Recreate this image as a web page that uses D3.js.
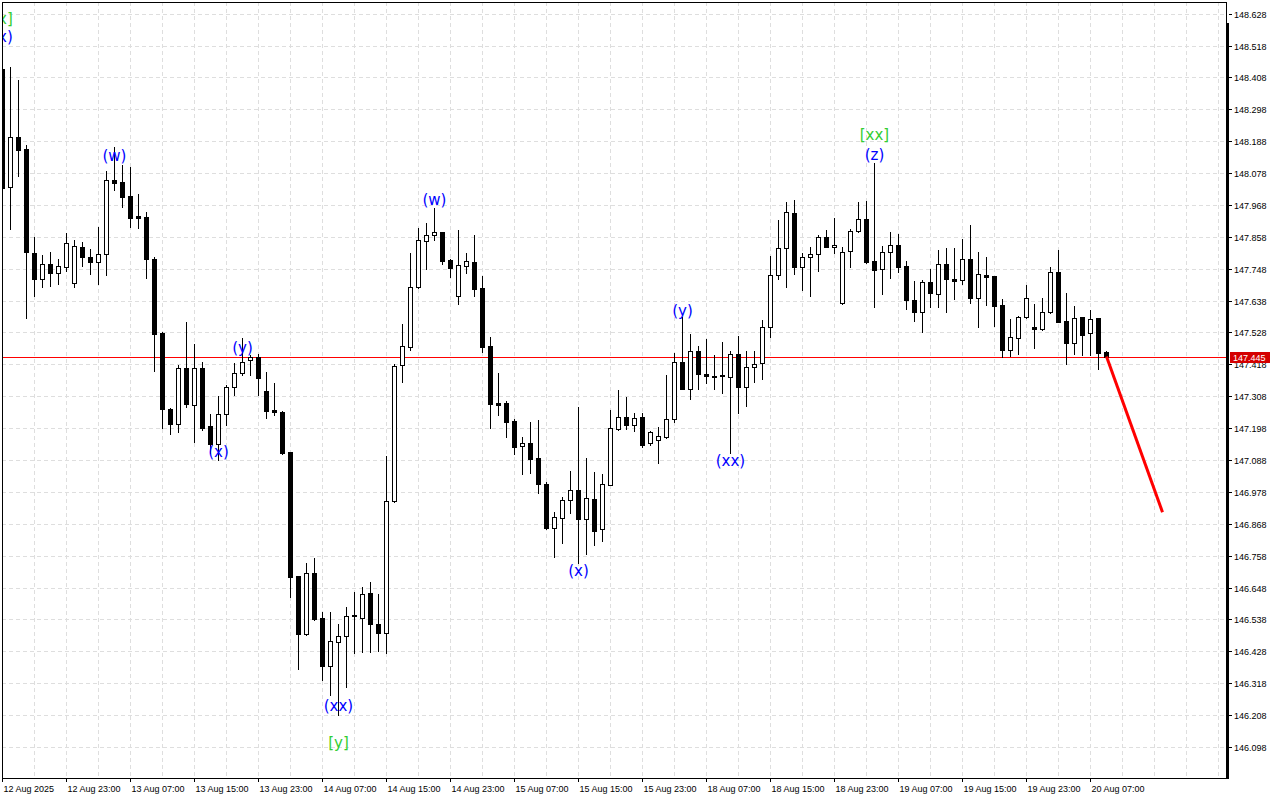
<!DOCTYPE html>
<html><head><meta charset="utf-8">
<script src="https://cdn.jsdelivr.net/npm/d3@7"></script>
<style>html,body{margin:0;padding:0;background:#fff;} svg{display:block;}</style>
</head><body>
<svg id="c" width="1280" height="800"></svg>
<script>
// ---- DATA (H1, 12 Aug 2025 15:00 .. 20 Aug 2025 09:00) ----
const opens = [148.437,148.030,148.203,148.161,147.802,147.713,147.764,147.733,147.754,147.699,
147.823,147.788,147.771,147.799,148.054,148.047,147.999,147.930,147.927,147.782,
147.526,147.264,147.212,147.406,147.278,147.406,147.205,147.143,147.247,147.340,
147.388,147.433,147.443,147.326,147.261,147.254,147.116,146.688,146.488,146.698,
146.543,146.377,146.460,146.481,146.550,146.543,146.629,146.522,146.491,146.947,
147.416,147.478,147.685,147.844,147.864,147.875,147.778,147.654,147.757,147.771,
147.682,147.481,147.285,147.285,147.223,147.136,147.147,147.095,147.005,146.853,
146.888,146.950,146.984,146.884,146.953,146.850,147.002,147.195,147.236,147.209,
147.236,147.147,147.157,147.167,147.229,147.426,147.333,147.464,147.385,147.374,
147.381,147.374,147.454,147.340,147.409,147.423,147.547,147.726,147.820,147.940,
147.754,147.788,147.799,147.857,147.823,147.630,147.809,147.878,147.920,147.775,
147.747,147.806,147.830,147.757,147.640,147.599,147.702,147.661,147.764,147.713,
147.709,147.782,147.647,147.726,147.723,147.623,147.468,147.509,147.581,147.547,
147.540,147.599,147.737,147.568,147.492,147.581,147.526,147.578,147.461];
const highs = [148.448,148.444,148.399,148.175,147.857,147.795,147.806,147.782,147.871,147.847,
147.840,147.816,147.892,148.085,148.168,148.106,148.099,148.006,147.944,147.788,
147.530,147.267,147.416,147.564,147.488,147.426,147.247,147.309,147.347,147.423,
147.509,147.450,147.454,147.392,147.354,147.257,147.116,146.688,146.733,146.750,
146.563,146.563,146.522,146.581,146.633,146.650,146.667,146.626,147.102,147.419,
147.557,147.802,147.889,147.906,147.958,147.875,147.782,147.882,147.802,147.864,
147.723,147.512,147.388,147.292,147.229,147.167,147.219,147.226,147.012,146.909,
146.960,147.050,147.271,147.095,147.047,147.040,147.261,147.330,147.305,147.250,
147.250,147.188,147.202,147.381,147.457,147.581,147.523,147.481,147.506,147.450,
147.495,147.464,147.516,147.464,147.464,147.571,147.792,147.916,147.978,147.985,
147.802,147.823,147.864,147.882,147.923,147.823,147.885,147.978,147.982,148.113,
147.826,147.875,147.868,147.775,147.706,147.709,147.747,147.813,147.820,147.820,
147.851,147.899,147.806,147.788,147.723,147.644,147.575,147.585,147.692,147.626,
147.647,147.754,147.813,147.664,147.619,147.581,147.606,147.578,147.464];
const lows = [148.020,147.885,148.068,147.578,147.654,147.685,147.688,147.695,147.740,147.685,
147.757,147.730,147.695,147.726,148.020,147.961,147.892,147.889,147.716,147.395,
147.198,147.178,147.185,147.271,147.150,147.191,147.112,147.088,147.209,147.312,
147.381,147.381,147.312,147.233,147.243,147.109,146.615,146.367,146.485,146.536,
146.329,146.277,146.208,146.305,146.422,146.425,146.425,146.429,146.422,146.943,
147.357,147.468,147.682,147.747,147.847,147.764,147.719,147.626,147.733,147.654,
147.461,147.198,147.243,147.167,147.109,147.040,147.043,146.974,146.850,146.753,
146.802,146.905,146.733,146.764,146.795,146.808,147.002,147.191,147.195,147.188,
147.133,147.140,147.078,147.164,147.219,147.333,147.298,147.333,147.354,147.333,
147.319,147.112,147.250,147.274,147.357,147.367,147.512,147.713,147.685,147.730,
147.675,147.654,147.740,147.823,147.802,147.626,147.754,147.875,147.768,147.616,
147.661,147.716,147.737,147.609,147.568,147.530,147.616,147.616,147.599,147.644,
147.695,147.630,147.547,147.623,147.550,147.443,147.447,147.454,147.578,147.475,
147.537,147.595,147.564,147.419,147.454,147.450,147.450,147.402,147.443];
const closes = [148.027,148.203,148.158,147.806,147.713,147.764,147.733,147.757,147.837,147.826,
147.788,147.771,147.799,148.054,148.044,147.996,147.923,147.923,147.782,147.523,
147.264,147.212,147.406,147.281,147.406,147.198,147.143,147.247,147.340,147.388,
147.426,147.443,147.371,147.257,147.254,147.112,146.684,146.488,146.698,146.539,
146.377,146.463,146.481,146.550,146.553,146.626,146.522,146.491,146.947,147.412,
147.481,147.685,147.847,147.864,147.875,147.775,147.751,147.761,147.775,147.678,
147.478,147.281,147.278,147.219,147.133,147.147,147.091,147.005,146.853,146.891,
146.950,146.984,146.884,146.957,146.843,147.005,147.198,147.236,147.209,147.233,
147.140,147.185,147.171,147.229,147.426,147.333,147.464,147.385,147.378,147.378,
147.378,147.454,147.340,147.409,147.419,147.547,147.726,147.820,147.944,147.754,
147.788,147.799,147.857,147.823,147.830,147.806,147.878,147.920,147.771,147.744,
147.806,147.830,147.754,147.640,147.599,147.702,147.664,147.764,147.713,147.706,
147.782,147.647,147.730,147.719,147.619,147.468,147.512,147.581,147.647,147.540,
147.599,147.737,147.564,147.492,147.578,147.519,147.575,147.457,147.445];

const dateLabels = ["12 Aug 2025","12 Aug 23:00","13 Aug 07:00","13 Aug 15:00","13 Aug 23:00",
"14 Aug 07:00","14 Aug 15:00","14 Aug 23:00","15 Aug 07:00","15 Aug 15:00","15 Aug 23:00",
"18 Aug 07:00","18 Aug 15:00","18 Aug 23:00","19 Aug 07:00","19 Aug 15:00","19 Aug 23:00","20 Aug 07:00"];
const dateLabelIndex = [0,8,16,24,32,40,48,56,64,72,80,88,96,104,112,120,128,136];

const priceTicks = [148.628,148.518,148.408,148.298,148.188,148.078,147.968,147.858,147.748,147.638,
147.528,147.418,147.308,147.198,147.088,146.978,146.868,146.758,146.648,146.538,146.428,146.318,146.208,146.098];

const waveText  = ["[x]","(x)","(w)","(y)","(x)","(xx)","[y]","(w)","(x)","(y)","(xx)","[xx]","(z)"];
const waveIndex = [0,0,14,30,27,42,42,54,72,85,91,109,109];
const wavePrice = [148.592,148.530,148.120,147.457,147.098,146.222,146.094,147.969,146.688,147.586,147.067,148.192,148.123];
const waveColor = ["#32cd32","#0000ff","#0000ff","#0000ff","#0000ff","#0000ff","#32cd32","#0000ff","#0000ff","#0000ff","#0000ff","#32cd32","#0000ff"];

const lastPrice = 147.445;
const forecastIndex = [138,145];
const forecastPrice = [147.445,146.908];

// ---- LAYOUT ----
const L = 2, T = 2, R = 1226, B = 778;
const svg = d3.select("#c");
const x = d3.scaleLinear().domain([0,138]).range([2.5,1106.5]);
const y = d3.scaleLinear().domain([146.098,148.628]).range([746.9,13.7]);
const ry = v => Math.round(y(v));

svg.append("rect").attr("width",1280).attr("height",800).attr("fill","#fff");
svg.append("defs").append("clipPath").attr("id","clip")
  .append("rect").attr("x",L).attr("y",T).attr("width",R-L).attr("height",B-T);

const plot = svg.append("g").attr("clip-path","url(#clip)");

// grid
const grid = plot.append("g").attr("stroke","#dedede").attr("stroke-dasharray","4,3")
  .attr("shape-rendering","crispEdges");
grid.selectAll("line.h").data(priceTicks).join("line").attr("class","h")
  .attr("x1",L).attr("x2",R).attr("y1",d=>ry(d)+0.5).attr("y2",d=>ry(d)+0.5);
const vIdx = d3.range(4,153,4);
grid.selectAll("line.v").data(vIdx).join("line").attr("class","v")
  .attr("x1",d=>x(d)).attr("x2",d=>x(d)).attr("y1",T).attr("y2",B);

// current price line (behind candles)
plot.append("rect").attr("x",L).attr("width",R-L)
  .attr("y",ry(lastPrice)).attr("height",1)
  .attr("fill","#ff0000").attr("shape-rendering","crispEdges");

// candles
const idx = d3.range(opens.length);
const cg = plot.append("g").attr("shape-rendering","crispEdges");
cg.selectAll("rect.w").data(idx).join("rect").attr("class","w")
  .attr("x",i=>x(i)-0.5).attr("width",1)
  .attr("y",i=>ry(highs[i])).attr("height",i=>ry(lows[i])-ry(highs[i])+1)
  .attr("fill","#000");
cg.selectAll("rect.b").data(idx).join("rect").attr("class","b")
  .each(function(i){
    const top = ry(Math.max(opens[i],closes[i])), bot = ry(Math.min(opens[i],closes[i]));
    const s = d3.select(this);
    if (closes[i] >= opens[i] && bot-top >= 2) {
      s.attr("x",x(i)-2).attr("y",top+0.5).attr("width",4).attr("height",bot-top)
       .attr("fill","#fff").attr("stroke","#000").attr("stroke-width",1);
    } else {
      s.attr("x",x(i)-2.5).attr("y",top).attr("width",5).attr("height",Math.max(1,bot-top+1))
       .attr("fill","#000");
    }
  });

// forecast line
plot.append("line")
  .attr("x1",x(forecastIndex[0])).attr("y1",y(forecastPrice[0]))
  .attr("x2",x(forecastIndex[1])).attr("y2",y(forecastPrice[1]))
  .attr("stroke","#ff0000").attr("stroke-width",3);

// wave labels
plot.selectAll("text.wave").data(waveText).join("text").attr("class","wave")
  .attr("x",(d,k)=>x(waveIndex[k])).attr("y",(d,k)=>y(wavePrice[k]))
  .attr("text-anchor","middle").attr("font-family","DejaVu Sans, Verdana, sans-serif")
  .attr("font-size",15).attr("fill",(d,k)=>waveColor[k]).text(d=>d);

// frame
const fr = svg.append("g").attr("shape-rendering","crispEdges");
fr.append("line").attr("x1",L).attr("x2",R+1).attr("y1",T+0.5).attr("y2",T+0.5).attr("stroke","#000");
fr.append("line").attr("x1",L+0.5).attr("x2",L+0.5).attr("y1",T).attr("y2",B+1).attr("stroke","#000");
fr.append("line").attr("x1",L).attr("x2",R+3).attr("y1",B+0.5).attr("y2",B+0.5).attr("stroke","#000");
fr.append("line").attr("x1",R+0.5).attr("x2",R+0.5).attr("y1",T).attr("y2",24).attr("stroke","#000");
fr.append("rect").attr("x",R).attr("y",23).attr("width",3).attr("height",B-23+1).attr("fill","#000");

// right price axis
const ax = svg.append("g").attr("font-family","Liberation Sans, Arial, sans-serif").attr("font-size",9).attr("fill","#000");
ax.selectAll("line").data(priceTicks).join("line")
  .attr("x1",R+3).attr("x2",R+6).attr("y1",d=>ry(d)+0.5).attr("y2",d=>ry(d)+0.5)
  .attr("stroke","#000").attr("shape-rendering","crispEdges");
ax.selectAll("text").data(priceTicks).join("text")
  .attr("x",R+8).attr("y",d=>ry(d)+3.5).text(d=>d.toFixed(3));

// current price tag
const tag = svg.append("g");
tag.append("rect").attr("x",R+4).attr("y",ry(lastPrice)-5).attr("width",40).attr("height",11).attr("fill","#d40000");
tag.append("text").attr("x",R+7).attr("y",ry(lastPrice)+4).attr("font-family","Liberation Sans, Arial, sans-serif")
  .attr("font-size",9).attr("fill","#fff").text(lastPrice.toFixed(3));

// bottom date axis
const bx = svg.append("g").attr("font-family","Liberation Sans, Arial, sans-serif").attr("font-size",9).attr("fill","#000");
bx.selectAll("line").data(dateLabelIndex).join("line")
  .attr("x1",d=>x(d)).attr("x2",d=>x(d)).attr("y1",B+1).attr("y2",B+4)
  .attr("stroke","#000").attr("shape-rendering","crispEdges");
bx.selectAll("text").data(dateLabels).join("text")
  .attr("x",(d,k)=>x(dateLabelIndex[k])+1).attr("y",792).text(d=>d);
</script>
</body></html>
